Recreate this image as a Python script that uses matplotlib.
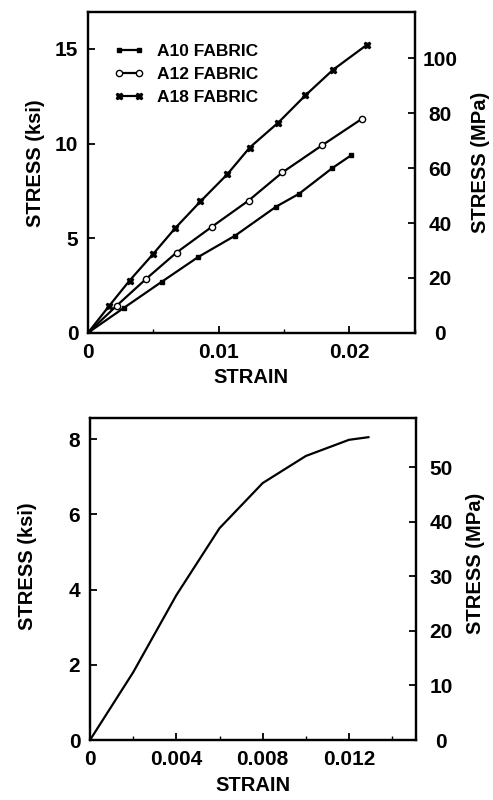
import numpy as np
import matplotlib.pyplot as plt
from matplotlib.ticker import MultipleLocator

plt.rcParams['font.family'] = ['Liberation Sans', 'DejaVu Sans']
plt.rcParams['font.weight'] = 'bold'

KSI_TO_MPA = 6.895

# top panel: three fabrics
a10_strain = [0, 0.00275, 0.00567, 0.00842, 0.01127, 0.0144, 0.01613, 0.01868, 0.02015]
a10_stress = [0, 1.32, 2.71, 4.00, 5.14, 6.67, 7.34, 8.70, 9.39]
a12_strain = [0, 0.00219, 0.00443, 0.00677, 0.00947, 0.01229, 0.01486, 0.01789, 0.02094]
a12_stress = [0, 1.43, 2.84, 4.24, 5.60, 6.99, 8.47, 9.90, 11.30]
a18_strain = [0, 0.00163, 0.00318, 0.00499, 0.00667, 0.0086, 0.01066, 0.01237,
              0.01456, 0.01662, 0.01873, 0.02132]
a18_stress = [0, 1.43, 2.76, 4.17, 5.53, 6.94, 8.38, 9.79, 11.11, 12.54, 13.89, 15.21]

# bottom panel: single curve
b_strain = [0, 0.002, 0.004, 0.006, 0.008, 0.010, 0.012, 0.0129]
b_stress = [0, 1.8, 3.85, 5.63, 6.83, 7.55, 7.98, 8.05]

fig = plt.figure(figsize=(4.93, 8.0), dpi=100)
ax1 = fig.add_axes([0.1785, 0.584, 0.663, 0.401])
ax2 = fig.add_axes([0.1826, 0.075, 0.661, 0.4025])

lw = 1.6
ax1.plot(a10_strain, a10_stress, '-s', color='black', lw=lw, ms=3.5,
         label='A10 FABRIC')
ax1.plot(a12_strain, a12_stress, '-o', color='black', lw=lw, ms=4.5,
         mfc='white', mew=1.0, label='A12 FABRIC')
ax1.plot(a18_strain, a18_stress, '-X', color='black', lw=lw, ms=4.5,
         label='A18 FABRIC')
ax2.plot(b_strain, b_stress, '-', color='black', lw=lw)

TICK_FS = 15
LABEL_FS = 14.5

def style(ax, xmax, ymax, xmaj, xmin, ymaj, rmaj, xfmt, lpos, rpos):
    ax.set_xlim(0, xmax)
    ax.set_ylim(0, ymax)
    ax.xaxis.set_minor_locator(MultipleLocator(xmin))
    ax.yaxis.set_major_locator(MultipleLocator(ymaj))
    ax.set_xticks([t for t in np.arange(0, xmax + 1e-9, xmaj) if t < xmax - 1e-9])
    ax.set_xticklabels([xfmt(t) for t in ax.get_xticks()])
    for s in ax.spines.values():
        s.set_linewidth(1.6)
    ax.tick_params(direction='in', length=5, width=1.3, labelsize=TICK_FS,
                   top=False, right=False, pad=7)
    ax.tick_params(which='minor', direction='in', length=3, width=1.0)
    ax.set_xlabel('STRAIN', fontsize=LABEL_FS, fontweight='bold', labelpad=5)
    ax.set_ylabel('STRESS (ksi)', fontsize=LABEL_FS, fontweight='bold', va='center')
    ax.yaxis.set_label_coords(*lpos)
    r = ax.twinx()
    r.set_ylim(0, ymax * KSI_TO_MPA)
    r.yaxis.set_major_locator(MultipleLocator(rmaj))
    r.tick_params(direction='in', length=5, width=1.3, labelsize=TICK_FS, pad=18)
    for lab in r.get_yticklabels():
        lab.set_horizontalalignment('center')
    for s in r.spines.values():
        s.set_linewidth(1.6)
    r.set_ylabel('STRESS (MPa)', fontsize=LABEL_FS, fontweight='bold', va='center')
    r.yaxis.set_label_coords(*rpos)
    return r

style(ax1, 0.025, 16.95, 0.01, 0.005, 5, 20,
      lambda t: '0' if t == 0 else '%g' % round(t, 3),
      (-0.16, 0.53), (1.2, 0.53))
style(ax2, 0.0151, 8.56, 0.004, 0.002, 2, 10,
      lambda t: '0' if t == 0 else '%.3f' % t,
      (-0.193, 0.54), (1.184, 0.55))

leg = ax1.legend(loc='upper left', frameon=False, fontsize=12.5, numpoints=2,
                 handlelength=1.8, handletextpad=0.7, labelspacing=0.45,
                 borderaxespad=0.5, bbox_to_anchor=(0.03, 0.95))

fig.savefig('out.png', dpi=100)
